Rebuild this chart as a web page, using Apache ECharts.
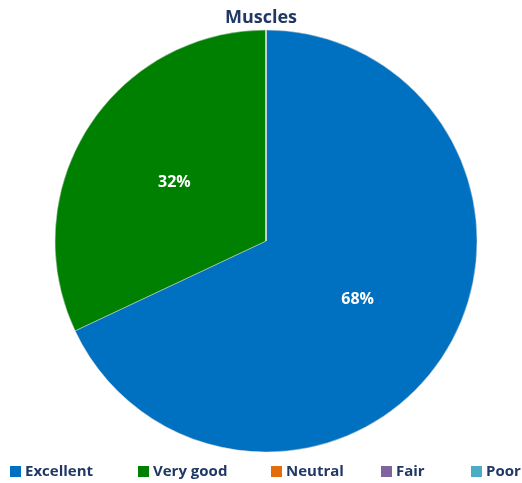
<!DOCTYPE html>
<html><head><meta charset="utf-8">
<script src="https://cdn.jsdelivr.net/npm/echarts@6/dist/echarts.min.js"></script>
<style>html,body{margin:0;padding:0;background:#fff}#c{width:522px;height:483px}</style>
</head><body><div id="c"></div>
<script>
const categories = ['Excellent', 'Very good', 'Neutral', 'Fair', 'Poor'];
const values = [68, 32, 0, 0, 0];
const colors = ['#0070C0', '#008000', '#E46C0A', '#8064A2', '#4BACC6'];
const legendLeft = [10, 138, 271, 381, 471];
const font = '"Open Sans", "Liberation Sans", sans-serif';
const chart = echarts.init(document.getElementById('c'));
const legends = categories.map((c, i) => ({
  data: [c], left: legendLeft[i], top: 464, padding: 0, itemWidth: 11, itemHeight: 11, itemGap: 4,
  icon: 'rect', selectedMode: false,
  itemStyle: {borderWidth: 0},
  textStyle: {color: '#203864', fontWeight: 'bold', fontSize: 15, fontFamily: font, padding: [0,0,0,-1]}
}));
chart.setOption({
  animation: false,
  color: colors,
  title: {text: 'Muscles', left: 'center', top: 4,
    textStyle: {color: '#203864', fontWeight: 'bold', fontSize: 18, fontFamily: font}},
  legend: legends,
  series: [{
    type: 'pie', center: [266, 241], radius: 211, startAngle: 90, clockwise: true,
    data: categories.map((c, i) => ({name: c, value: values[i]})),
    itemStyle: {borderColor: '#d9d9d9', borderWidth: 0.5},
    label: {position: 'inside', color: '#fff', fontWeight: 'bold', fontSize: 16, fontFamily: font,
      formatter: p => p.value ? Math.round(p.percent) + '%' : ''},
    labelLine: {show: false}, emphasis: {disabled: true}
  }]
});
</script></body></html>
